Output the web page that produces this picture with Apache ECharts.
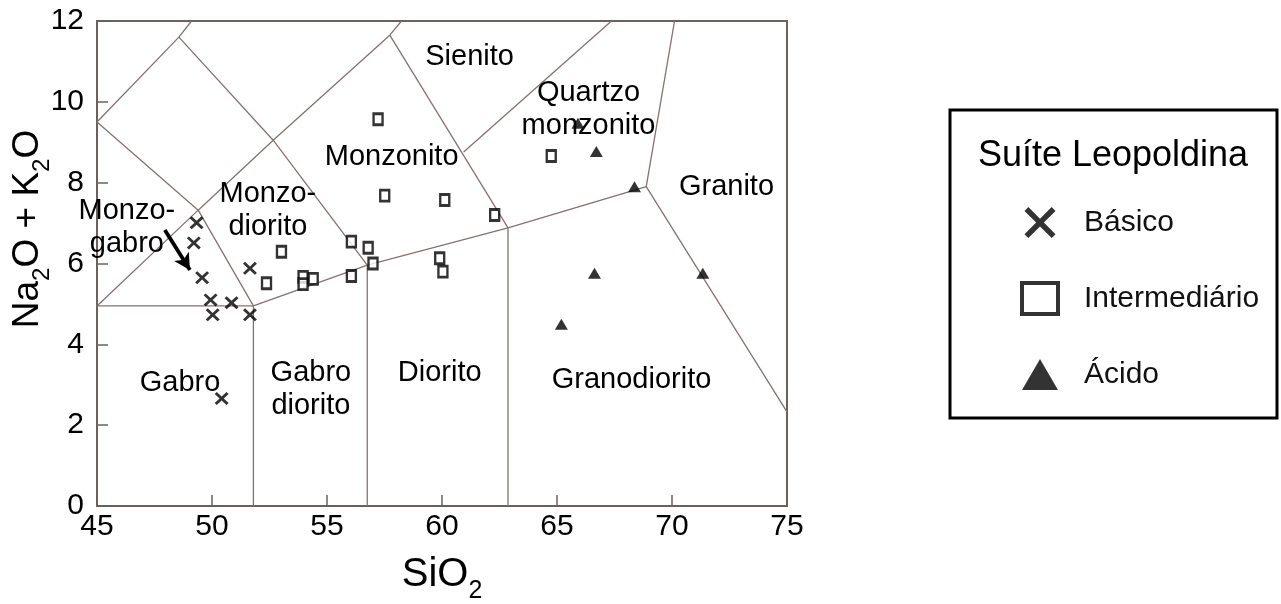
<!DOCTYPE html>
<html><head><meta charset="utf-8">
<script src="https://cdn.jsdelivr.net/npm/echarts@6/dist/echarts.min.js"></script>
<style>html,body{margin:0;padding:0;background:#fff}#c{width:1281px;height:604px}</style>
</head><body><div id="c"></div>
<script>
const FONT = '"Liberation Sans", Arial, Helvetica, sans-serif';

// Axis ranges / ticks
const xRange = [45, 75], xStep = 5;
const yRange = [0, 12], yStep = 2;

// Suíte Leopoldina samples (SiO2, Na2O+K2O)
const basicoSiO2 = [49.33, 49.21, 49.57, 49.94, 50.85, 50.03, 51.65, 51.65, 50.42];
const basicoAlk  = [7.01, 6.51, 5.65, 5.10, 5.03, 4.73, 4.73, 5.88, 2.66];

const intermSiO2 = [57.22, 57.51, 60.12, 62.29, 64.75, 53.02, 52.37, 53.96, 53.96, 54.40, 56.06, 56.79, 57.00, 56.06, 59.90, 60.04];
const intermAlk  = [9.57, 7.68, 7.57, 7.20, 8.66, 6.29, 5.51, 5.67, 5.49, 5.62, 6.54, 6.39, 6.00, 5.69, 6.13, 5.80];

const acidoSiO2 = [65.91, 66.71, 68.37, 66.63, 71.34, 65.19];
const acidoAlk  = [9.47, 8.77, 7.90, 5.76, 5.76, 4.50];

// TAS field boundaries (SiO2, Na2O+K2O)
const bndUpperLeft   = [[45, 9.5], [48.56, 11.6], [49.11, 12]];
const bndMonzogabro  = [[45, 9.5], [49.4, 7.32], [51.8, 4.95]];
const bndBase        = [[45, 4.95], [51.8, 4.95], [56.75, 5.96], [62.87, 6.88], [68.88, 7.9], [75, 2.33]];
const bndDiagonal    = [[45, 4.95], [49.4, 7.32], [52.66, 9.05], [57.73, 11.65], [58.24, 12]];
const bndMonzodior   = [[48.56, 11.6], [52.66, 9.05], [56.75, 5.96]];
const bndMonzonito   = [[57.73, 11.65], [62.87, 6.88]];
const bndSienito     = [[60.94, 8.76], [67.37, 12]];
const bndGranito     = [[68.88, 7.9], [70.11, 12]];
const bndGabroV      = [[51.8, 0], [51.8, 4.95]];
const bndDioritoV    = [[56.75, 0], [56.75, 5.96]];
const bndGranodV     = [[62.87, 0], [62.87, 6.88]];
const boundaries = [bndUpperLeft, bndMonzogabro, bndBase, bndDiagonal, bndMonzodior, bndMonzonito, bndSienito, bndGranito, bndGabroV, bndDioritoV, bndGranodV];

// Field names
const fieldNames = ['Sienito', 'Quartzo\nmonzonito', 'Monzonito', 'Monzo-\ndiorito', 'Monzo-\ngabro', 'Gabro', 'Gabro\ndiorito', 'Diorito', 'Granodiorito', 'Granito'];
const fieldX     = [61.2, 66.37, 57.81, 52.43, 46.3, 48.61, 54.3, 59.9, 68.24, 72.37];
const fieldY     = [11.11, 9.82, 8.63, 7.30, 6.88, 3.04, 2.89, 3.29, 3.12, 7.89];

// Arrow Monzo-gabro
const arrowStart = [47.95, 6.83];
const arrowEnd   = [49.04, 5.84];

const seriesNames = ['Básico', 'Intermediário', 'Ácido'];

const X_PATH = 'path://M0,3 L3,0 L10,7 L17,0 L20,3 L13,10 L20,17 L17,20 L10,13 L3,20 L0,17 L7,10 Z';
const X_PATH_LEG = 'path://M0,2.5 L2.5,0 L10,7.5 L17.5,0 L20,2.5 L12.5,10 L20,17.5 L17.5,20 L10,12.5 L2.5,20 L0,17.5 L7.5,10 Z';

const zip = (a, b) => a.map((v, i) => [v, b[i]]);
const lineColor = '#847270';
const frameColor = '#6b615e';
const ink = '#000';
const txt = '#000';

const series = [];
boundaries.forEach(b => series.push({
  type: 'line', data: b, symbol: 'none', silent: true, z: 1,
  lineStyle: { color: lineColor, width: 1.3 }, animation: false
}));

series.push({
  type: 'scatter', data: fieldNames.map((n, i) => ({ name: n, value: [fieldX[i], fieldY[i]] })),
  symbolSize: 0, itemStyle: { color: 'transparent' }, silent: true, z: 3, animation: false,
  label: { show: true, position: 'inside', formatter: '{b}', fontSize: 29, lineHeight: 33, opacity: 1,
           color: txt, textBorderWidth: 0, fontFamily: FONT, align: 'center' },
  markLine: {
    silent: true, animation: false, symbol: ['none', 'arrow'], symbolSize: [13, 16],
    lineStyle: { color: ink, width: 3.8, type: 'solid' }, label: { show: false },
    data: [[{ coord: arrowStart }, { coord: arrowEnd }]]
  }
});

series.push({
  name: seriesNames[0], type: 'scatter', data: zip(basicoSiO2, basicoAlk), z: 5,
  symbol: X_PATH, symbolSize: [14, 13], itemStyle: { color: ink }, animation: false
});
series.push({
  name: seriesNames[1], type: 'scatter', data: zip(intermSiO2, intermAlk), z: 5,
  symbol: 'rect', symbolSize: [9, 11], itemStyle: { color: '#fff', borderColor: ink, borderWidth: 2.6 }, animation: false
});
series.push({
  name: seriesNames[2], type: 'scatter', data: zip(acidoSiO2, acidoAlk), z: 5,
  symbol: 'triangle', symbolSize: [13, 11], itemStyle: { color: ink }, animation: false
});

const chart = echarts.init(document.getElementById('c'), null, { renderer: 'canvas' });
chart.setOption({
  backgroundColor: '#fff',
  animation: false,
  grid: { left: 97, top: 21, width: 690, height: 485, outerBoundsMode: 'none', containLabel: false,
          show: true, borderColor: frameColor, borderWidth: 2, backgroundColor: 'transparent' },
  xAxis: {
    type: 'value', min: xRange[0], max: xRange[1], interval: xStep,
    axisLine: { show: true, lineStyle: { color: frameColor, width: 2 } },
    axisTick: { show: true, inside: true, length: 11, lineStyle: { color: frameColor, width: 1.5 } },
    axisLabel: { fontSize: 30, color: txt, fontFamily: FONT, margin: 6 },
    splitLine: { show: false },
    name: '{m|SiO}{s|2}', nameLocation: 'middle', nameGap: 38,
    nameTextStyle: { rich: {
      m: { fontSize: 40, lineHeight: 40, fontFamily: FONT, color: txt },
      s: { fontSize: 25, lineHeight: 25, padding: [32, 0, 0, 0], fontFamily: FONT, color: txt }
    } }
  },
  yAxis: {
    type: 'value', min: yRange[0], max: yRange[1], interval: yStep,
    axisLine: { show: true, lineStyle: { color: frameColor, width: 2 } },
    axisTick: { show: true, inside: true, length: 11, lineStyle: { color: frameColor, width: 1.5 } },
    axisLabel: { fontSize: 30, color: txt, fontFamily: FONT, margin: 13 },
    splitLine: { show: false }
  },
  legend: {
    left: 1015, top: 202, orient: 'vertical', itemWidth: 36, itemHeight: 31, itemGap: 43,
    selectedMode: false,
    textStyle: { fontSize: 30, color: '#111', fontFamily: FONT, padding: [0, 0, 0, 21] },
    data: [
      { name: seriesNames[0], icon: X_PATH_LEG, itemStyle: { color: ink, borderWidth: 0 } },
      { name: seriesNames[1], icon: 'rect', itemStyle: { color: '#fff', borderColor: ink, borderWidth: 4 } },
      { name: seriesNames[2], icon: 'triangle', itemStyle: { color: ink, borderWidth: 0 } }
    ]
  },
  graphic: [
    { type: 'rect', shape: { x: 950, y: 110, width: 327, height: 308 }, style: { fill: 'none', stroke: '#000', lineWidth: 3 }, z: 1, silent: true },
    { type: 'text', x: 1113, y: 156, z: 10, silent: true,
      style: { text: 'Suíte Leopoldina', fontSize: 36, fontFamily: FONT, fill: txt, align: 'center', verticalAlign: 'middle' } },
    { type: 'text', x: 28, y: 229, rotation: Math.PI / 2, z: 10, silent: true,
      style: { text: '{m|Na}{s|2}{m|O + K}{s|2}{m|O}', align: 'center', verticalAlign: 'middle',
        rich: {
          m: { fontSize: 37, lineHeight: 37, fontFamily: FONT, fill: txt },
          s: { fontSize: 24, lineHeight: 24, padding: [28, 0, 0, 0], fontFamily: FONT, fill: txt }
        } } }
  ],
  series: series
});
</script></body></html>
